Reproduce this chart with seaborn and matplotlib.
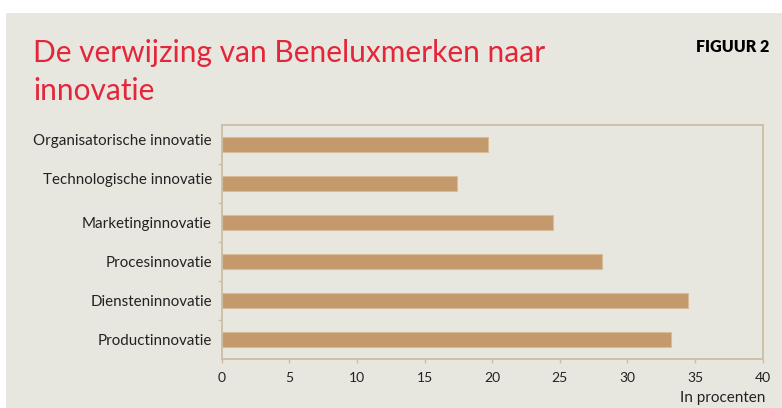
import seaborn as sns
import pandas as pd
import matplotlib.pyplot as plt
from matplotlib.patches import Rectangle
from matplotlib.ticker import FixedLocator
from matplotlib.transforms import ScaledTranslation

# data
categories = ["Organisatorische innovatie", "Technologische innovatie", "Marketinginnovatie",
              "Procesinnovatie", "Diensteninnovatie", "Productinnovatie"]
values = [19.7, 17.4, 24.5, 28.1, 34.5, 33.2]
x_ticks = [0, 5, 10, 15, 20, 25, 30, 35, 40]

df = pd.DataFrame({"categorie": categories, "procent": values})

sns.set_style("white")
plt.rcParams['font.family'] = ['Lato', 'DejaVu Sans']

bg = "#e8e7df"
frame = "#cbbea4"
bar_color = "#c4996b"
text_color = "#222222"

fig = plt.figure(figsize=(7.82, 4.08), dpi=100)
fig.patch.set_facecolor("white")
# grey panel, leaves a thin white strip at the top and left
fig.patches.append(Rectangle((6 / 782, 0), 1, 1 - 13 / 408, transform=fig.transFigure,
                             facecolor=bg, edgecolor="none", zorder=-5))

ax = fig.add_axes([221.7 / 782, 1 - 359 / 408, 541 / 782, 234 / 408])
ax.set_facecolor(bg)

sns.barplot(data=df, y="categorie", x="procent", orient="h", color=bar_color,
            width=0.4, saturation=1, edgecolor="#d8bc98", linewidth=0.8, ax=ax)

ax.set_xlim(0, 40)
ax.set_ylim(5.5, -0.5)
ax.set_xticks(x_ticks)
ax.set_xlabel("")
ax.set_ylabel("")

for side in ["top", "right", "bottom", "left"]:
    ax.spines[side].set_visible(True)
    ax.spines[side].set_color(frame)
    ax.spines[side].set_linewidth(1.3)

ax.tick_params(axis="x", which="major", direction="out", length=3, width=1, color=frame,
               labelsize=10, labelcolor=text_color, pad=6, bottom=True)
ax.tick_params(axis="y", which="major", length=0, labelsize=10.9, labelcolor=text_color, pad=7)
ax.yaxis.set_minor_locator(FixedLocator([0.5, 1.5, 2.5, 3.5, 4.5]))
ax.tick_params(axis="y", which="minor", direction="out", length=3, width=1, color=frame, left=True)

# the two top labels sit a little above their bars in the reference
for lab in ax.get_yticklabels()[:2]:
    lab.set_transform(lab.get_transform() + ScaledTranslation(0, 5 / 100, fig.dpi_scale_trans))

title_red = "#e3263a"
fig.text(33 / 782, 1 - 62 / 408, "De verwijzing van Beneluxmerken naar",
         color=title_red, fontsize=21.5, ha="left", va="baseline")
fig.text(33 / 782, 1 - 100 / 408, "innovatie",
         color=title_red, fontsize=21.5, ha="left", va="baseline")
fig.text(769 / 782, 1 - 47 / 408, "FIGUUR 2", color="black", fontsize=11.5,
         fontweight="heavy", ha="right", va="center")
fig.text(765 / 782, 1 - 398 / 408, "In procenten", color=text_color, fontsize=11,
         ha="right", va="center")

fig.savefig("out.png", dpi=100, facecolor=fig.get_facecolor())
